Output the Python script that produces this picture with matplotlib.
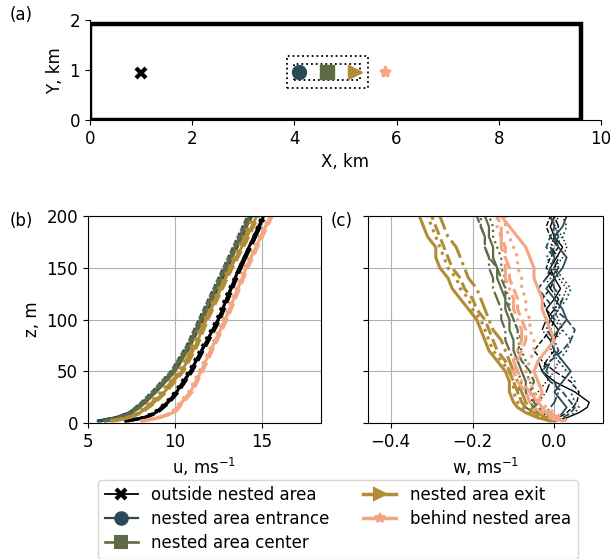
import matplotlib
matplotlib.use("Agg")
import matplotlib.pyplot as plt
from matplotlib.lines import Line2D
from matplotlib.patches import Rectangle

# --- data -------------------------------------------------------------
names = ["outside nested area", "nested area entrance", "nested area center",
         "nested area exit", "behind nested area"]
colors = ["black", "#284b55", "#5f6b45", "#b38c36", "#f4a582"]
markers = ["x", "o", "s", ">", "*"]
loc_x = [1.0, 4.1, 4.63, 5.18, 5.77]
loc_y = [0.95, 0.97, 0.97, 0.97, 0.97]

domain = (9.6, 1.92)
nest_outer = (3.85, 0.64, 1.6, 0.65)
nest_inner = (4.0, 0.81, 1.29, 0.32)

z_u = [2, 5, 10, 20, 30, 50, 75, 100, 125, 150, 175, 200]
u_profiles = [
    [[7.2, 8.2, 8.9, 9.6, 10.1, 10.9, 11.7, 12.5, 13.1, 13.7, 14.4, 15.1],
     [7.3, 8.3, 9.0, 9.7, 10.2, 11.0, 11.8, 12.6, 13.2, 13.8, 14.5, 15.1],
     [7.1, 8.1, 8.8, 9.5, 10.0, 10.8, 11.6, 12.4, 13.0, 13.7, 14.4, 15.0],
     [7.2, 8.2, 8.9, 9.6, 10.1, 10.9, 11.7, 12.5, 13.1, 13.8, 14.5, 15.2]],
    [[5.6, 6.6, 7.4, 8.2, 8.8, 9.9, 10.8, 11.5, 12.2, 12.9, 13.6, 14.3],
     [5.7, 6.7, 7.5, 8.3, 8.9, 10.0, 10.9, 11.6, 12.3, 13.0, 13.7, 14.4],
     [5.6, 6.6, 7.4, 8.1, 8.7, 9.8, 10.7, 11.4, 12.1, 12.8, 13.5, 14.2],
     [5.7, 6.6, 7.5, 8.2, 8.8, 9.9, 10.8, 11.6, 12.3, 13.0, 13.7, 14.4]],
    [[6.0, 6.8, 7.5, 8.2, 8.8, 9.9, 10.8, 11.5, 12.2, 12.9, 13.6, 14.3],
     [6.1, 6.9, 7.6, 8.3, 8.9, 10.0, 10.9, 11.6, 12.3, 13.0, 13.7, 14.4],
     [5.9, 6.7, 7.4, 8.1, 8.7, 9.8, 10.7, 11.4, 12.1, 12.8, 13.5, 14.2],
     [6.0, 6.8, 7.6, 8.3, 8.9, 10.0, 10.8, 11.5, 12.2, 12.9, 13.6, 14.3]],
    [[6.4, 7.3, 8.0, 8.8, 9.4, 10.4, 11.2, 11.8, 12.5, 13.2, 14.0, 14.7],
     [6.5, 7.4, 8.1, 8.9, 9.5, 10.5, 11.3, 11.9, 12.6, 13.3, 14.1, 14.8],
     [6.3, 7.2, 7.9, 8.6, 9.2, 10.2, 11.0, 11.7, 12.4, 13.1, 13.8, 14.5],
     [6.4, 7.3, 8.0, 8.7, 9.3, 10.3, 11.1, 11.8, 12.5, 13.2, 13.9, 14.6]],
    [[8.1, 9.0, 9.9, 10.4, 10.9, 11.5, 12.2, 12.9, 13.5, 14.1, 14.8, 15.5],
     [8.2, 9.1, 10.0, 10.5, 11.0, 11.6, 12.3, 13.0, 13.6, 14.2, 14.9, 15.6],
     [8.1, 9.0, 9.8, 10.3, 10.8, 11.4, 12.1, 12.8, 13.4, 14.0, 14.7, 15.4],
     [8.2, 9.1, 9.9, 10.4, 10.9, 11.5, 12.2, 12.9, 13.5, 14.1, 14.8, 15.5]],
]

z_w = [2, 5, 10, 15, 20, 30, 40, 50, 60, 70, 80, 90, 100, 110, 120, 130,
       140, 150, 160, 170, 180, 190, 200]
w_profiles = [
    [[0.0, 0.03, 0.06, 0.08, 0.085, 0.05, 0.0, -0.03, -0.04, -0.02, 0.0, 0.01,
      -0.01, -0.02, 0.0, 0.015, 0.0, -0.01, 0.005, 0.02, 0.0, -0.01, 0.0],
     [0.0, 0.01, 0.03, 0.045, 0.055, 0.06, 0.04, 0.0, -0.03, -0.05, -0.03, -0.01,
      0.0, -0.02, -0.03, -0.01, 0.0, -0.02, -0.01, 0.01, -0.01, -0.02, -0.01],
     [0.0, -0.01, -0.03, -0.05, -0.06, -0.04, -0.02, 0.0, 0.01, -0.01, 0.0, 0.02,
      0.01, 0.0, 0.02, 0.03, 0.01, 0.0, 0.02, 0.03, 0.02, 0.0, 0.01],
     [0.0, -0.02, -0.04, -0.05, -0.04, -0.02, -0.01, -0.03, -0.02, 0.0, -0.01, -0.03,
      -0.02, 0.0, 0.01, -0.01, -0.02, 0.0, 0.01, -0.01, 0.0, 0.01, 0.0]],
    [[0.0, 0.01, 0.02, 0.03, 0.02, 0.0, 0.02, 0.04, 0.02, 0.0, -0.01, 0.01,
      0.03, 0.02, 0.0, -0.02, 0.0, 0.02, 0.03, 0.01, 0.0, 0.02, 0.03],
     [0.0, 0.02, 0.04, 0.05, 0.04, 0.02, -0.01, -0.03, -0.01, 0.02, 0.04, 0.05,
      0.03, 0.0, -0.02, -0.04, -0.02, -0.01, 0.0, -0.02, -0.01, 0.0, -0.01],
     [0.0, 0.03, 0.05, 0.06, 0.05, 0.04, 0.05, 0.03, 0.01, 0.03, 0.04, 0.02,
      0.0, 0.01, 0.03, 0.04, 0.02, 0.0, -0.02, 0.0, 0.02, 0.03, 0.02],
     [0.0, -0.01, -0.02, -0.01, 0.0, 0.01, 0.0, -0.02, -0.01, 0.01, 0.0, -0.02,
      -0.01, 0.01, 0.02, 0.0, -0.01, 0.01, 0.0, -0.01, 0.01, 0.0, -0.01]],
    [[0.0, -0.02, -0.04, -0.05, -0.06, -0.07, -0.07, -0.08, -0.09, -0.10, -0.10, -0.11,
      -0.11, -0.12, -0.12, -0.13, -0.14, -0.14, -0.15, -0.15, -0.16, -0.16, -0.17],
     [0.0, -0.01, -0.03, -0.04, -0.05, -0.06, -0.05, -0.06, -0.08, -0.09, -0.08, -0.09,
      -0.10, -0.11, -0.12, -0.12, -0.13, -0.14, -0.16, -0.17, -0.17, -0.18, -0.19],
     [0.0, -0.01, -0.02, -0.04, -0.05, -0.05, -0.06, -0.07, -0.07, -0.08, -0.09, -0.09,
      -0.10, -0.11, -0.11, -0.12, -0.12, -0.13, -0.13, -0.14, -0.15, -0.15, -0.16],
     [0.0, -0.02, -0.05, -0.07, -0.08, -0.09, -0.08, -0.09, -0.10, -0.11, -0.12, -0.12,
      -0.13, -0.13, -0.14, -0.15, -0.15, -0.16, -0.16, -0.17, -0.17, -0.18, -0.18]],
    [[-0.01, -0.04, -0.07, -0.09, -0.10, -0.11, -0.11, -0.12, -0.14, -0.16, -0.17, -0.18,
      -0.19, -0.21, -0.23, -0.25, -0.26, -0.28, -0.29, -0.29, -0.31, -0.32, -0.33],
     [0.0, -0.02, -0.05, -0.07, -0.08, -0.09, -0.10, -0.11, -0.12, -0.14, -0.15, -0.16,
      -0.17, -0.19, -0.20, -0.22, -0.23, -0.25, -0.26, -0.27, -0.28, -0.29, -0.30],
     [0.0, -0.03, -0.06, -0.08, -0.09, -0.10, -0.10, -0.11, -0.13, -0.15, -0.16, -0.17,
      -0.18, -0.20, -0.21, -0.23, -0.24, -0.26, -0.27, -0.28, -0.29, -0.30, -0.31],
     [0.0, -0.02, -0.04, -0.06, -0.07, -0.08, -0.09, -0.10, -0.11, -0.12, -0.13, -0.15,
      -0.16, -0.17, -0.18, -0.19, -0.21, -0.22, -0.23, -0.24, -0.26, -0.27, -0.28]],
    [[0.02, 0.0, -0.02, -0.03, -0.04, -0.03, -0.04, -0.05, -0.04, -0.02, 0.0, -0.01,
      -0.02, -0.03, -0.03, -0.04, -0.05, -0.05, -0.06, -0.07, -0.09, -0.11, -0.13],
     [0.01, -0.01, -0.03, -0.05, -0.06, -0.07, -0.09, -0.10, -0.09, -0.08, -0.07, -0.07,
      -0.08, -0.09, -0.09, -0.10, -0.11, -0.11, -0.12, -0.12, -0.13, -0.13, -0.14],
     [0.03, 0.02, 0.0, -0.02, -0.03, -0.05, -0.06, -0.07, -0.06, -0.05, -0.05, -0.06,
      -0.06, -0.07, -0.07, -0.08, -0.08, -0.09, -0.09, -0.10, -0.11, -0.12, -0.12],
     [0.02, 0.01, -0.01, -0.03, -0.04, -0.06, -0.08, -0.09, -0.10, -0.09, -0.08, -0.08,
      -0.09, -0.10, -0.10, -0.11, -0.12, -0.12, -0.12, -0.13, -0.13, -0.14, -0.14]],
]

line_styles = ["-", "--", ":", "-."]
line_widths = [1.0, 1.3, 1.6, 2.2, 2.2]

plt.rcParams["font.size"] = 12

# --- figure -----------------------------------------------------------
fig = plt.figure(figsize=(6.12, 5.59), dpi=100)
ax_a = fig.add_axes([0.147, 0.785, 0.835, 0.179])
ax_b = fig.add_axes([0.1435, 0.2433, 0.381, 0.370])
ax_c = fig.add_axes([0.6018, 0.2433, 0.383, 0.370], sharey=ax_b)

# (a) map of locations
ax_a.add_patch(Rectangle((0, 0), domain[0], domain[1], fill=False,
                         edgecolor="black", linewidth=3.2, zorder=3))
for r in (nest_outer, nest_inner):
    ax_a.add_patch(Rectangle((r[0], r[1]), r[2], r[3], fill=False,
                             edgecolor="black", linestyle=":", linewidth=1.3))
for i in range(len(names)):
    if markers[i] == "x":
        ax_a.plot(loc_x[i], loc_y[i], marker="x", color=colors[i],
                  markersize=7, markeredgewidth=3, linestyle="none")
    elif markers[i] == "*":
        ax_a.plot(loc_x[i], loc_y[i], marker="*", color=colors[i],
                  markersize=8, markeredgewidth=2, linestyle="none")
    else:
        ax_a.plot(loc_x[i], loc_y[i], marker=markers[i], color=colors[i],
                  markersize=10, linestyle="none")
ax_a.set_xlim(0, 10)
ax_a.set_ylim(0, 2)
ax_a.set_xticks([0, 2, 4, 6, 8, 10])
ax_a.set_yticks([0, 1, 2])
ax_a.spines["top"].set_visible(False)
ax_a.spines["right"].set_visible(False)
ax_a.set_xlabel("X, km")
ax_a.set_ylabel("Y, km")

# (b) u profiles, (c) w profiles
for i in range(len(names)):
    for j, ls in enumerate(line_styles):
        ax_b.plot(u_profiles[i][j], z_u, color=colors[i], linestyle=ls,
                  linewidth=2.2)
        ax_c.plot(w_profiles[i][j], z_w, color=colors[i], linestyle=ls,
                  linewidth=line_widths[i])

ax_b.set_xlim(5, 18.4)
ax_b.set_ylim(0, 200)
ax_b.set_xticks([5, 10, 15])
ax_b.set_yticks([0, 50, 100, 150, 200])
ax_b.set_xlabel("u, ms$^{-1}$")
ax_b.set_ylabel("z, m")
ax_b.grid(True)

ax_c.set_xlim(-0.455, 0.118)
ax_c.set_xticks([-0.4, -0.2, 0.0])
ax_c.set_xlabel("w, ms$^{-1}$")
ax_c.tick_params(labelleft=False)
ax_c.grid(True)

fig.text(0.016, 0.965, "(a)", fontsize=12)
fig.text(0.016, 0.595, "(b)", fontsize=12)
fig.text(0.540, 0.595, "(c)", fontsize=12)

handles = [Line2D([0], [0], color=colors[i], marker=markers[i],
                  markersize=9 if markers[i] not in ("x", "*") else 7,
                  markeredgewidth=3 if markers[i] == "x" else 1.5,
                  linewidth=line_widths[i] + 0.3)
           for i in range(len(names))]
fig.legend(handles, names, loc="upper center", ncol=2,
           bbox_to_anchor=(0.552, 0.142), fontsize=12,
           handletextpad=0.8, labelspacing=0.36, columnspacing=2.0,
           borderaxespad=0.0)

fig.savefig("out.png", dpi=100)
